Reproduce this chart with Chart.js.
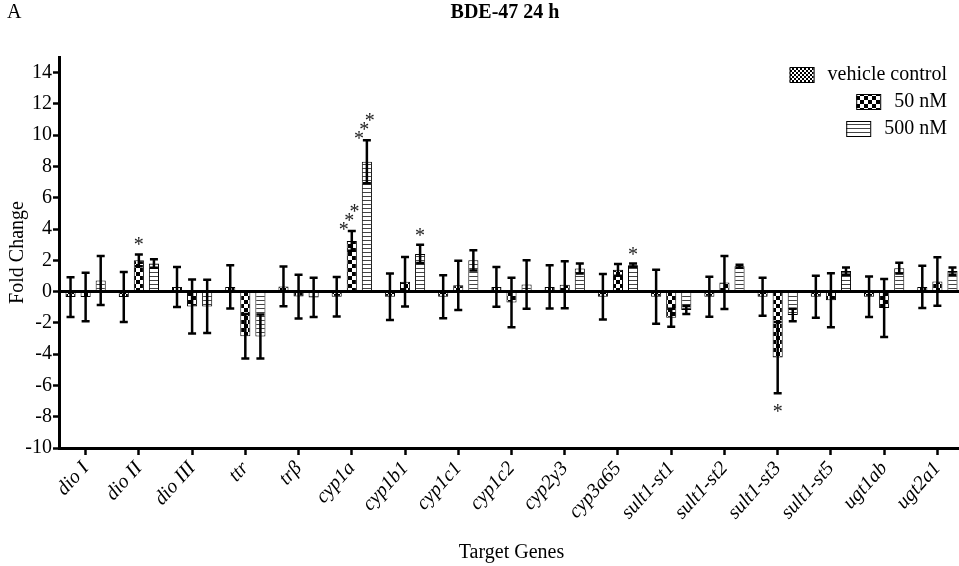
<!DOCTYPE html>
<html>
<head>
<meta charset="utf-8">
<script src="https://cdn.jsdelivr.net/npm/chart.js@4.4.1/dist/chart.umd.min.js"></script>
<style>
html, body { margin: 0; padding: 0; overflow: hidden; background: #fff; }
canvas { display: block; }
</style>
</head>
<body>
<canvas id="chart" width="966" height="566"></canvas>
<script>
const genes = ['dio I', 'dio II', 'dio III', 'ttr', 'trβ', 'cyp1a', 'cyp1b1', 'cyp1c1', 'cyp1c2',
    'cyp2y3', 'cyp3a65', 'sult1-st1', 'sult1-st2', 'sult1-st3', 'sult1-st5', 'ugt1ab', 'ugt2a1'];

const seriesNames = ['vehicle control', '50 nM', '500 nM'];

const vehicleMean = [-0.35, -0.35, 0.3, 0.3, 0.33, -0.33, -0.33, -0.33, 0.3, 0.3, -0.33, -0.33, -0.33, -0.33, -0.33, -0.33, 0.3];
const vehicleSd = [1.27, 1.6, 1.28, 1.38, 1.27, 1.27, 1.49, 1.38, 1.27, 1.38, 1.46, 1.72, 1.28, 1.22, 1.34, 1.3, 1.35];

const nm50Mean = [-0.35, 2.0, -0.95, -2.85, -0.32, 3.24, 0.63, 0.4, -0.7, 0.44, 1.39, -1.67, 0.58, -4.22, -0.55, -1.05, 0.65];
const nm50Sd = [1.55, 0.38, 1.73, 1.42, 1.4, 0.63, 1.58, 1.58, 1.58, 1.5, 0.38, 0.57, 1.7, 2.28, 1.73, 1.86, 1.55];

const nm500Mean = [0.71, 1.8, -0.95, -2.87, -0.37, 8.3, 2.41, 2.0, 0.45, 1.48, 1.69, -1.18, 1.62, -1.5, 1.31, 1.5, 1.31];
const nm500Sd = [1.57, 0.27, 1.7, 1.41, 1.26, 1.38, 0.58, 0.65, 1.55, 0.32, 0.1, 0.26, 0.1, 0.4, 0.23, 0.34, 0.23];

const yTicks = [-10, -8, -6, -4, -2, 0, 2, 4, 6, 8, 10, 12, 14];

// significance marks: gene index, series index, number of stars
const starGene = [1, 5, 5, 6, 10, 13];
const starSeries = [1, 1, 2, 2, 2, 1];
const starCount = [1, 3, 3, 1, 1, 1];

const SERIF = '"Liberation Serif", "Times New Roman", serif';

function makePattern(kind) {
    const c = document.createElement('canvas');
    const g = c.getContext('2d');
    if (kind === 'fine') {
        c.width = 4; c.height = 4;
        g.fillStyle = '#fff'; g.fillRect(0, 0, 4, 4);
        g.fillStyle = '#000';
        g.fillRect(0, 0, 2, 2); g.fillRect(2, 2, 2, 2);
    } else if (kind === 'checker') {
        c.width = 8; c.height = 8;
        g.fillStyle = '#fff'; g.fillRect(0, 0, 8, 8);
        g.fillStyle = '#000';
        g.fillRect(0, 0, 4, 4); g.fillRect(4, 4, 4, 4);
    } else {
        c.width = 4; c.height = 4;
        g.fillStyle = '#fff'; g.fillRect(0, 0, 4, 4);
        g.fillStyle = '#444';
        g.fillRect(0, 0, 4, 1);
    }
    return g.createPattern(c, 'repeat');
}

const patterns = [makePattern('fine'), makePattern('checker'), makePattern('lines')];
const means = [vehicleMean, nm50Mean, nm500Mean];
const sds = [vehicleSd, nm50Sd, nm500Sd];

const annotate = {
    id: 'annotate',
    afterDatasetsDraw(chart) {
        const c = chart.ctx;
        const y = chart.scales.y;
        const area = chart.chartArea;
        c.save();

        // zero line
        c.strokeStyle = '#000';
        c.lineWidth = 3;
        c.beginPath();
        c.moveTo(area.left, y.getPixelForValue(0));
        c.lineTo(area.right + 4, y.getPixelForValue(0));
        c.stroke();

        // error bars
        c.lineWidth = 2.5;
        for (let s = 0; s < 3; s++) {
            const meta = chart.getDatasetMeta(s);
            meta.data.forEach((bar, i) => {
                const top = y.getPixelForValue(means[s][i] + sds[s][i]);
                const bot = y.getPixelForValue(means[s][i] - sds[s][i]);
                c.beginPath();
                c.moveTo(bar.x, top); c.lineTo(bar.x, bot);
                c.moveTo(bar.x - 4, top); c.lineTo(bar.x + 4, top);
                c.moveTo(bar.x - 4, bot); c.lineTo(bar.x + 4, bot);
                c.stroke();
            });
        }

        // stars
        c.fillStyle = '#222';
        c.font = '20px ' + SERIF;
        c.textAlign = 'center';
        c.textBaseline = 'alphabetic';
        const m = c.measureText('*');
        const glyphShift = (m.actualBoundingBoxAscent - m.actualBoundingBoxDescent) / 2;
        starGene.forEach((g, k) => {
            const s = starSeries[k];
            const bar = chart.getDatasetMeta(s).data[g];
            const v = means[s][g];
            if (starCount[k] === 1) {
                let cy;
                if (v >= 0) cy = y.getPixelForValue(v + sds[s][g]) - 13;
                else cy = y.getPixelForValue(v - sds[s][g]) + 15;
                c.fillText('*', bar.x, cy + glyphShift);
            } else {
                const base = y.getPixelForValue(v + sds[s][g]);
                for (let n = 0; n < starCount[k]; n++) {
                    c.fillText('*', bar.x - 8 + n * 5.4, base - 5 - n * 9 + glyphShift);
                }
            }
        });
        c.restore();
    },
    afterDraw(chart) {
        const c = chart.ctx;
        c.save();
        c.fillStyle = '#000';
        c.textBaseline = 'middle';

        c.font = '20px ' + SERIF;
        c.textAlign = 'left';
        c.fillText('A', 7, 13);

        c.font = 'bold 20px ' + SERIF;
        c.textAlign = 'center';
        c.fillText('BDE-47 24 h', 505, 13);

        // legend, right aligned
        c.font = '20px ' + SERIF;
        const rowY = [75, 102, 129];
        seriesNames.forEach((name, i) => {
            const w = c.measureText(name).width;
            const textLeft = 947 - w;
            c.textAlign = 'left';
            c.fillStyle = '#000';
            c.fillText(name, textLeft, rowY[i]);
            const sx = textLeft - 38;
            const sy = rowY[i] - 8;
            c.fillStyle = patterns[i];
            c.fillRect(sx, sy, 24, 15);
            c.strokeStyle = '#000';
            c.lineWidth = 1;
            c.strokeRect(sx + 0.5, sy + 0.5, 24, 15);
        });
        c.restore();
    }
};

const ctx = document.getElementById('chart').getContext('2d');

new Chart(ctx, {
    type: 'bar',
    data: {
        labels: genes,
        datasets: seriesNames.map((name, i) => ({
            label: name,
            data: means[i],
            backgroundColor: patterns[i],
            borderColor: '#000',
            borderWidth: 1,
            borderSkipped: false,
            categoryPercentage: 0.85,
            barPercentage: 0.67
        }))
    },
    options: {
        responsive: false,
        animation: false,
        devicePixelRatio: 1,
        layout: { padding: { top: 57, right: 2, left: 0, bottom: 0 } },
        plugins: {
            legend: { display: false },
            title: { display: false },
            tooltip: { enabled: false }
        },
        scales: {
            x: {
                offset: true,
                afterFit(scale) { scale.height = 118; },
                grid: {
                    display: true,
                    offset: false,
                    drawOnChartArea: false,
                    drawTicks: true,
                    tickLength: 7,
                    tickWidth: 2.5,
                    tickColor: '#000'
                },
                border: { display: true, color: '#000', width: 3 },
                ticks: {
                    color: '#000',
                    autoSkip: false,
                    minRotation: 48,
                    maxRotation: 48,
                    padding: 2,
                    font: { family: SERIF, size: 20, style: 'italic' }
                },
                title: {
                    display: true,
                    text: 'Target Genes',
                    color: '#000',
                    padding: { top: 0, bottom: 1 },
                    font: { family: SERIF, size: 20 }
                }
            },
            y: {
                min: -10,
                max: 15,
                afterFit(scale) { scale.width = 59; },
                afterBuildTicks(scale) { scale.ticks = yTicks.map(v => ({ value: v })); },
                grid: {
                    display: true,
                    drawOnChartArea: false,
                    drawTicks: true,
                    tickLength: 6,
                    tickWidth: 2.5,
                    tickColor: '#000'
                },
                border: { display: true, color: '#000', width: 3 },
                ticks: {
                    color: '#000',
                    padding: 1,
                    font: { family: SERIF, size: 20 }
                },
                title: {
                    display: true,
                    text: 'Fold Change',
                    color: '#000',
                    padding: { top: 6, bottom: 0 },
                    font: { family: SERIF, size: 20 }
                }
            }
        }
    },
    plugins: [annotate]
});
</script>
</body>
</html>
